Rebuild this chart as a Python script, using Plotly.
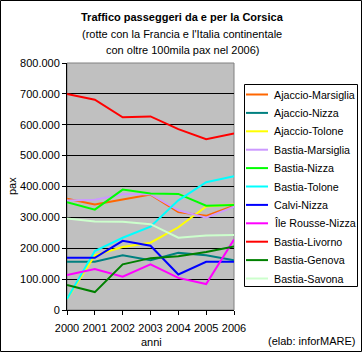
import plotly.graph_objects as go

years = [2000, 2001, 2002, 2003, 2004, 2005, 2006]

series_names = [
    "Ajaccio-Marsiglia", "Ajaccio-Nizza", "Ajaccio-Tolone", "Bastia-Marsiglia",
    "Bastia-Nizza", "Bastia-Tolone", "Calvi-Nizza", "Île Rousse-Nizza",
    "Bastia-Livorno", "Bastia-Genova", "Bastia-Savona",
]
ajaccio_marsiglia = [360000, 342000, 358000, 374000, 317000, 305000, 338000]
ajaccio_nizza = [156000, 156000, 177000, 161000, 185000, 177000, 161000]
ajaccio_tolone = [36000, 177000, 204000, 218000, 268000, 335000, 342000]
bastia_marsiglia = [355000, 357000, 375000, 375000, 323000, 299000, 335000]
bastia_nizza = [349000, 325000, 390000, 377000, 376000, 338000, 340000]
bastia_tolone = [36000, 191000, 234000, 270000, 355000, 414000, 433000]
calvi_nizza = [169000, 169000, 224000, 208000, 115000, 156000, 156000]
ile_rousse_nizza = [113000, 133000, 108000, 148000, 104000, 84000, 228000]
bastia_livorno = [700000, 681000, 624000, 627000, 586000, 553000, 572000]
bastia_genova = [81000, 58000, 148000, 168000, 174000, 188000, 206000]
bastia_savona = [296000, 287000, 286000, 278000, 234000, 241000, 243000]

series_values = [
    ajaccio_marsiglia, ajaccio_nizza, ajaccio_tolone, bastia_marsiglia,
    bastia_nizza, bastia_tolone, calvi_nizza, ile_rousse_nizza,
    bastia_livorno, bastia_genova, bastia_savona,
]
series_colors = [
    "#FF6600", "#008080", "#FFFF00", "#CC99FF", "#00FF00", "#00FFFF",
    "#0000FF", "#FF00FF", "#FF0000", "#008000", "#CCFFCC",
]

y_tick_vals = [0, 100000, 200000, 300000, 400000, 500000, 600000, 700000, 800000]
y_tick_text = ["0", "100.000", "200.000", "300.000", "400.000", "500.000",
               "600.000", "700.000", "800.000"]

title_lines = [
    "<b>Traffico passeggeri da e per la Corsica</b>",
    "(rotte con la Francia e l'Italia continentale",
    "con oltre 100mila pax nel 2006)",
]

W, H = 362, 352
L, R, T, B = 67, 234, 63, 310
pw, ph = R - L, B - T


def px(x):
    return (x - L) / pw


def py(y):
    return (B - y) / ph


FONT = "Liberation Sans, Arial, sans-serif"

fig = go.Figure()
for name, vals, col in zip(series_names, series_values, series_colors):
    fig.add_trace(go.Scatter(
        x=years, y=vals, name=name, mode="lines",
        line=dict(color=col, width=2), showlegend=False,
    ))

annotations = []
for txt, yy in zip(title_lines, [17, 33.5, 49.5]):
    annotations.append(dict(
        text=txt, x=px(182), y=py(yy), xref="paper", yref="paper",
        xanchor="center", yanchor="middle", showarrow=False,
        font=dict(size=11, family=FONT, color="black"),
    ))
annotations.append(dict(
    text="anni", x=px(151), y=py(342), xref="paper", yref="paper",
    xanchor="center", yanchor="middle", showarrow=False,
    font=dict(size=11, family=FONT, color="black"),
))
annotations.append(dict(
    text="pax", x=px(12), y=py(186), xref="paper", yref="paper",
    xanchor="center", yanchor="middle", showarrow=False, textangle=-90,
    font=dict(size=11, family=FONT, color="black"),
))
annotations.append(dict(
    text="(elab: inforMARE)", x=px(357), y=py(341), xref="paper", yref="paper",
    xanchor="right", yanchor="middle", showarrow=False,
    font=dict(size=11, family=FONT, color="black"),
))

shapes = [
    dict(type="rect", xref="paper", yref="paper",
         x0=px(0.5), x1=px(W - 0.5), y0=py(H - 0.5), y1=py(0.5),
         line=dict(color="black", width=1), layer="below"),
    dict(type="rect", xref="paper", yref="paper",
         x0=0, x1=1, y0=0, y1=1,
         line=dict(color="#808080", width=1), layer="below"),
    # legend box
    dict(type="rect", xref="paper", yref="paper",
         x0=px(244.5), x1=px(357.5), y0=py(286.5), y1=py(84.5),
         line=dict(color="black", width=1), fillcolor="white", layer="above"),
]

# legend entries (built from series names/colours)
LEG_Y0, LEG_DY = 94.5, 18.4
for i, (name, col) in enumerate(zip(series_names, series_colors)):
    yy = LEG_Y0 + i * LEG_DY
    shapes.append(dict(
        type="line", xref="paper", yref="paper",
        x0=px(246), x1=px(268), y0=py(yy), y1=py(yy),
        line=dict(color=col, width=2), layer="above",
    ))
    annotations.append(dict(
        text=name, x=px(272), y=py(yy), xref="paper", yref="paper",
        xanchor="left", yanchor="middle", showarrow=False,
        font=dict(size=10.7, family=FONT, color="black"),
    ))

fig.update_layout(
    width=W, height=H,
    margin=dict(l=L, r=W - R, t=T, b=H - B, pad=0, autoexpand=False),
    paper_bgcolor="white", plot_bgcolor="#C0C0C0",
    font=dict(family=FONT, size=11, color="black"),
    showlegend=False,
    annotations=annotations,
    shapes=shapes,
    xaxis=dict(
        range=[2000, 2006], tickvals=years, ticktext=[str(y) for y in years],
        showgrid=False, zeroline=False, showline=True, linecolor="black",
        linewidth=1, ticks="outside", ticklen=4, tickcolor="black",
        tickangle=0, ticklabelstandoff=4, automargin=False,
        tickfont=dict(size=11, family=FONT, color="black"),
    ),
    yaxis=dict(
        range=[0, 800000], tickvals=y_tick_vals, ticktext=y_tick_text,
        showgrid=True, gridcolor="black", gridwidth=1, zeroline=False,
        showline=True, linecolor="black", linewidth=1, automargin=False,
        ticks="outside", ticklen=4, tickcolor="black",
        tickfont=dict(size=11, family=FONT, color="black"),
    ),
)

fig.write_html("out.html")
